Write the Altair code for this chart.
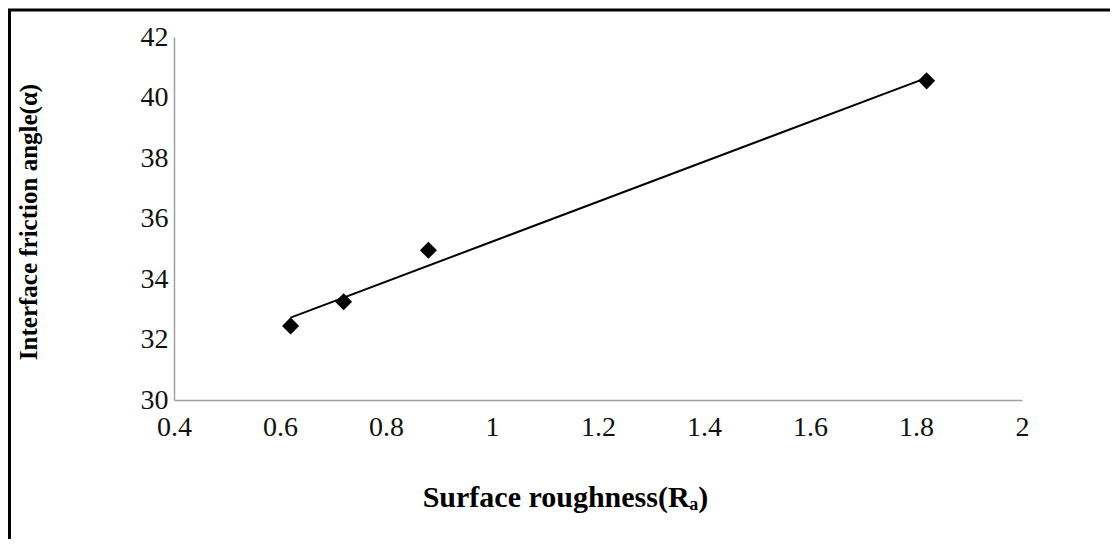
import altair as alt
import pandas as pd

roughness = [0.62, 0.72, 0.88, 1.82]
friction_angle = [32.45, 33.25, 34.95, 40.55]

df = pd.DataFrame({"Ra": roughness, "angle": friction_angle})

W, H = 848, 363
PL, PT = 166, 29
PR = 1118 - 16 - PL - W
PB = 555 - 16 - PT - H - 8

x_scale = alt.Scale(domain=[0.4, 2], nice=False, zero=False)
y_scale = alt.Scale(domain=[30, 42], nice=False, zero=False)

x_axis = alt.Axis(
    title="Surface roughness(Rₐ)",
    values=[0.4, 0.6, 0.8, 1.0, 1.2, 1.4, 1.6, 1.8, 2.0],
    labelExpr="datum.value == 1 || datum.value == 2 ? format(datum.value, 'd') : format(datum.value, '.1f')",
    grid=False, ticks=False, domainColor="#a0a0a0", domainWidth=1.5,
    labelFlush=False, labelOverlap=False,
    labelFont="Liberation Serif", labelFontSize=28, labelColor="#111111", labelPadding=13,
    titleFont="Liberation Serif", titleFontSize=30, titleFontWeight="bold", titleColor="#000000",
    titleX=391, titleY=82, titleBaseline="top", titleAnchor="middle",
)
y_axis = alt.Axis(
    title="Interface friction angle(α)",
    values=[30, 32, 34, 36, 38, 40, 42],
    grid=False, ticks=False, domainColor="#a0a0a0", domainWidth=1.5,
    labelFlush=False, labelOverlap=False,
    labelFont="Liberation Serif", labelFontSize=28, labelColor="#111111", labelPadding=6,
    titleFont="Liberation Serif", titleFontSize=25, titleFontWeight="bold", titleColor="#000000",
    titleX=-146, titleY=H / 2 + 3, titleAngle=-90, titleBaseline="middle", titleAnchor="middle",
)

base = alt.Chart(df)

points = base.mark_point(shape="diamond", filled=True, color="black", size=290, opacity=1).encode(
    x=alt.X("Ra:Q", scale=x_scale, axis=x_axis),
    y=alt.Y("angle:Q", scale=y_scale, axis=y_axis),
)

trend = base.transform_regression("Ra", "angle").mark_line(color="black", strokeWidth=2).encode(
    x=alt.X("Ra:Q", scale=x_scale),
    y=alt.Y("angle:Q", scale=y_scale),
)

frame_base = base.transform_aggregate(n="count()")
frame_left = frame_base.mark_rule(color="black", strokeWidth=3, clip=False).encode(
    x=alt.value(-PL + 1.5), x2=alt.value(-PL + 1.5),
    y=alt.value(-PT + 1), y2=alt.value(H + PB + 20),
)
frame_top = frame_base.mark_rule(color="black", strokeWidth=3, clip=False).encode(
    x=alt.value(-PL), x2=alt.value(W + PR + 20),
    y=alt.value(-PT + 2), y2=alt.value(-PT + 2),
)

chart = alt.layer(frame_left, frame_top, trend, points).properties(
    width=W, height=H,
    padding={"left": PL, "top": PT, "right": PR, "bottom": PB},
    autosize=alt.AutoSizeParams(type="none"),
    background="white",
).configure_view(stroke=None)

chart.save("out.html", embed_options={"renderer": "svg", "actions": False})
